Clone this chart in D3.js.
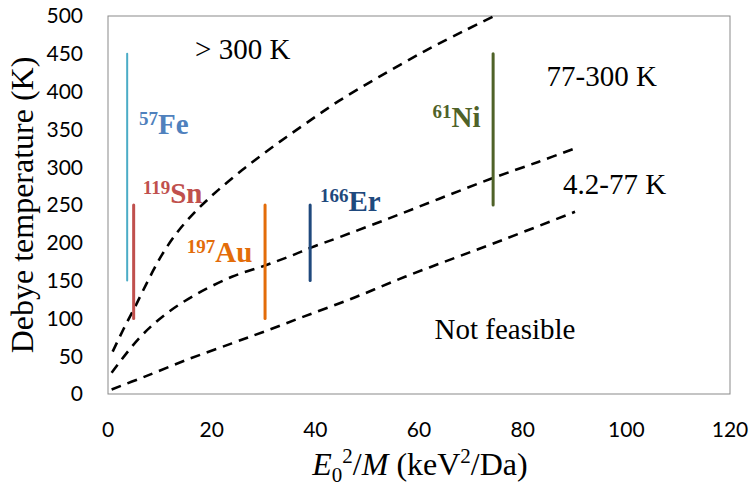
<!DOCTYPE html>
<html>
<head>
<meta charset="utf-8">
<script src="https://cdn.jsdelivr.net/npm/d3@7"></script>
<style>
  body { margin: 0; background: #fff; }
  svg { display: block; }
</style>
</head>
<body>
<div id="chart-container"></div>
<script>
// Data

const xTicks = [0, 20, 40, 60, 80, 100, 120];
const yTicks = [0, 50, 100, 150, 200, 250, 300, 350, 400, 450, 500];

// boundary curves [E0^2/M, Debye temperature]
const curve300K = [[0.9, 56], [3, 86], [5.2, 115], [7.8, 151], [10.4, 184], [13.6, 216], [17.4, 245], [21.3, 270], [26.4, 299], [32.2, 329], [38, 357], [44.4, 387], [52.2, 419], [61.2, 454], [68.9, 481], [74.5, 500]];
const curve77K = [[0.7, 28], [5.9, 73], [11, 105], [16.8, 131], [23.9, 155], [30.3, 170], [35.4, 183], [39.3, 194], [44.5, 207], [54.1, 232], [63.8, 258], [74, 285], [83, 307], [90.1, 325]];
const curve42K = [[0.7, 6], [7.1, 23], [15.5, 46], [23.9, 67], [30.3, 83], [38, 103], [47.7, 128], [57.3, 155], [66.9, 180], [76.6, 205], [90.1, 241]];

// isotopes: x position, temperature range
const isotopes = ["57Fe", "119Sn", "197Au", "166Er", "61Ni"];
const isoX = [3.7, 4.95, 30.3, 39, 74.3];
const isoLow = [150, 100, 100, 150, 250];
const isoHigh = [450, 250, 250, 250, 450];
const isoMass = ["57", "119", "197", "166", "61"];
const isoElem = ["Fe", "Sn", "Au", "Er", "Ni"];
const lineColors = ["#4BACC6", "#C0504D", "#E36C09", "#1F497D", "#4F6228"];
const labelColors = ["#4F81BD", "#C0504D", "#E36C09", "#1F497D", "#4F6228"];

// region labels
const regionText = ["> 300 K", "77-300 K", "4.2-77 K", "Not feasible"];

// Set dimensions
const W = 751, H = 487;
const margin = { top: 16, right: 21, bottom: 93, left: 108 };
const width = W - margin.left - margin.right;
const height = H - margin.top - margin.bottom;

const x = d3.scaleLinear().domain([0, 120]).range([0, width]);
const y = d3.scaleLinear().domain([0, 500]).range([height, 0]);

const svg = d3.select("#chart-container")
    .append("svg")
        .attr("width", W)
        .attr("height", H);

const g = svg.append("g")
    .attr("transform", `translate(${margin.left},${margin.top})`);

// plot area border
g.append("rect")
    .attr("width", width)
    .attr("height", height)
    .attr("fill", "none")
    .attr("stroke", "#898989")
    .attr("stroke-width", 1);

// tick labels
const tickFont = "Lato, 'Open Sans', sans-serif";
g.append("g")
    .selectAll("text")
    .data(yTicks)
    .join("text")
      .attr("x", -25)
      .attr("y", d => y(d))
      .attr("dy", "0.35em")
      .attr("text-anchor", "end")
      .style("font-family", tickFont)
      .style("font-size", "21px")
      .style("fill", "#000")
      .text(d => d);

g.append("g")
    .selectAll("text")
    .data(xTicks)
    .join("text")
      .attr("x", d => x(d))
      .attr("y", height + 43)
      .attr("text-anchor", "middle")
      .style("font-family", tickFont)
      .style("font-size", "21px")
      .style("fill", "#000")
      .text(d => d);

// dashed boundary curves
const line = d3.line()
    .x(d => x(d[0]))
    .y(d => y(d[1]))
    .curve(d3.curveCatmullRom.alpha(0.5));

g.append("g")
    .selectAll("path")
    .data([curve300K, curve77K, curve42K])
    .join("path")
      .attr("fill", "none")
      .attr("stroke", "#000")
      .attr("stroke-width", 2.6)
      .attr("stroke-dasharray", "10,7")
      .attr("d", d => line(d));

// isotope ranges
g.append("g")
    .selectAll("line")
    .data(isotopes)
    .join("line")
      .attr("x1", (d, i) => x(isoX[i]))
      .attr("x2", (d, i) => x(isoX[i]))
      .attr("y1", (d, i) => y(isoLow[i]))
      .attr("y2", (d, i) => y(isoHigh[i]))
      .attr("stroke", (d, i) => lineColors[i])
      .attr("stroke-width", (d, i) => i === 0 ? 2 : 3)
      .attr("stroke-linecap", "round");

// isotope labels, anchored in data units
const labelPos = [[6.0, 344], [6.7, 253], [15.2, 175], [40.9, 242], [62.6, 353]];
const serif = "'Liberation Serif', 'Times New Roman', serif";

const isoLabels = g.append("g")
    .selectAll("text")
    .data(isotopes)
    .join("text")
      .attr("x", (d, i) => x(labelPos[i][0]))
      .attr("y", (d, i) => y(labelPos[i][1]))
      .style("font-family", serif)
      .style("font-weight", "bold")
      .style("fill", (d, i) => labelColors[i]);

isoLabels.append("tspan")
    .style("font-size", "19px")
    .attr("dy", -9)
    .text((d, i) => isoMass[i]);
isoLabels.append("tspan")
    .style("font-size", "29px")
    .attr("dy", 9)
    .text((d, i) => isoElem[i]);

// region labels
const regionPos = [[16.8, 443], [84.6, 407], [87.8, 264], [63.0, 73]];
g.append("g")
    .selectAll("text")
    .data(regionText)
    .join("text")
      .attr("x", (d, i) => x(regionPos[i][0]))
      .attr("y", (d, i) => y(regionPos[i][1]))
      .attr("text-anchor", "start")
      .style("font-family", serif)
      .style("font-size", "29px")
      .style("fill", "#000")
      .text(d => d);

// y axis title
svg.append("text")
    .attr("transform", `translate(33,${margin.top + height / 2}) rotate(-90)`)
    .attr("text-anchor", "middle")
    .style("font-family", serif)
    .style("font-size", "32px")
    .style("fill", "#000")
    .text("Debye temperature (K)");

// x axis title
const xt = svg.append("text")
    .attr("x", margin.left + width / 2 + 1)
    .attr("y", 475)
    .attr("text-anchor", "middle")
    .style("font-family", serif)
    .style("font-size", "32px")
    .style("fill", "#000");
xt.append("tspan").style("font-style", "italic").text("E");
xt.append("tspan").style("font-size", "21px").attr("dy", 7).text("0");
xt.append("tspan").style("font-size", "21px").attr("dy", -19).text("2");
xt.append("tspan").attr("dy", 12).text("/");
xt.append("tspan").style("font-style", "italic").text("M");
xt.append("tspan").text(" (keV");
xt.append("tspan").style("font-size", "21px").attr("dy", -12).text("2");
xt.append("tspan").attr("dy", 12).text("/Da)");
</script>
</body>
</html>
